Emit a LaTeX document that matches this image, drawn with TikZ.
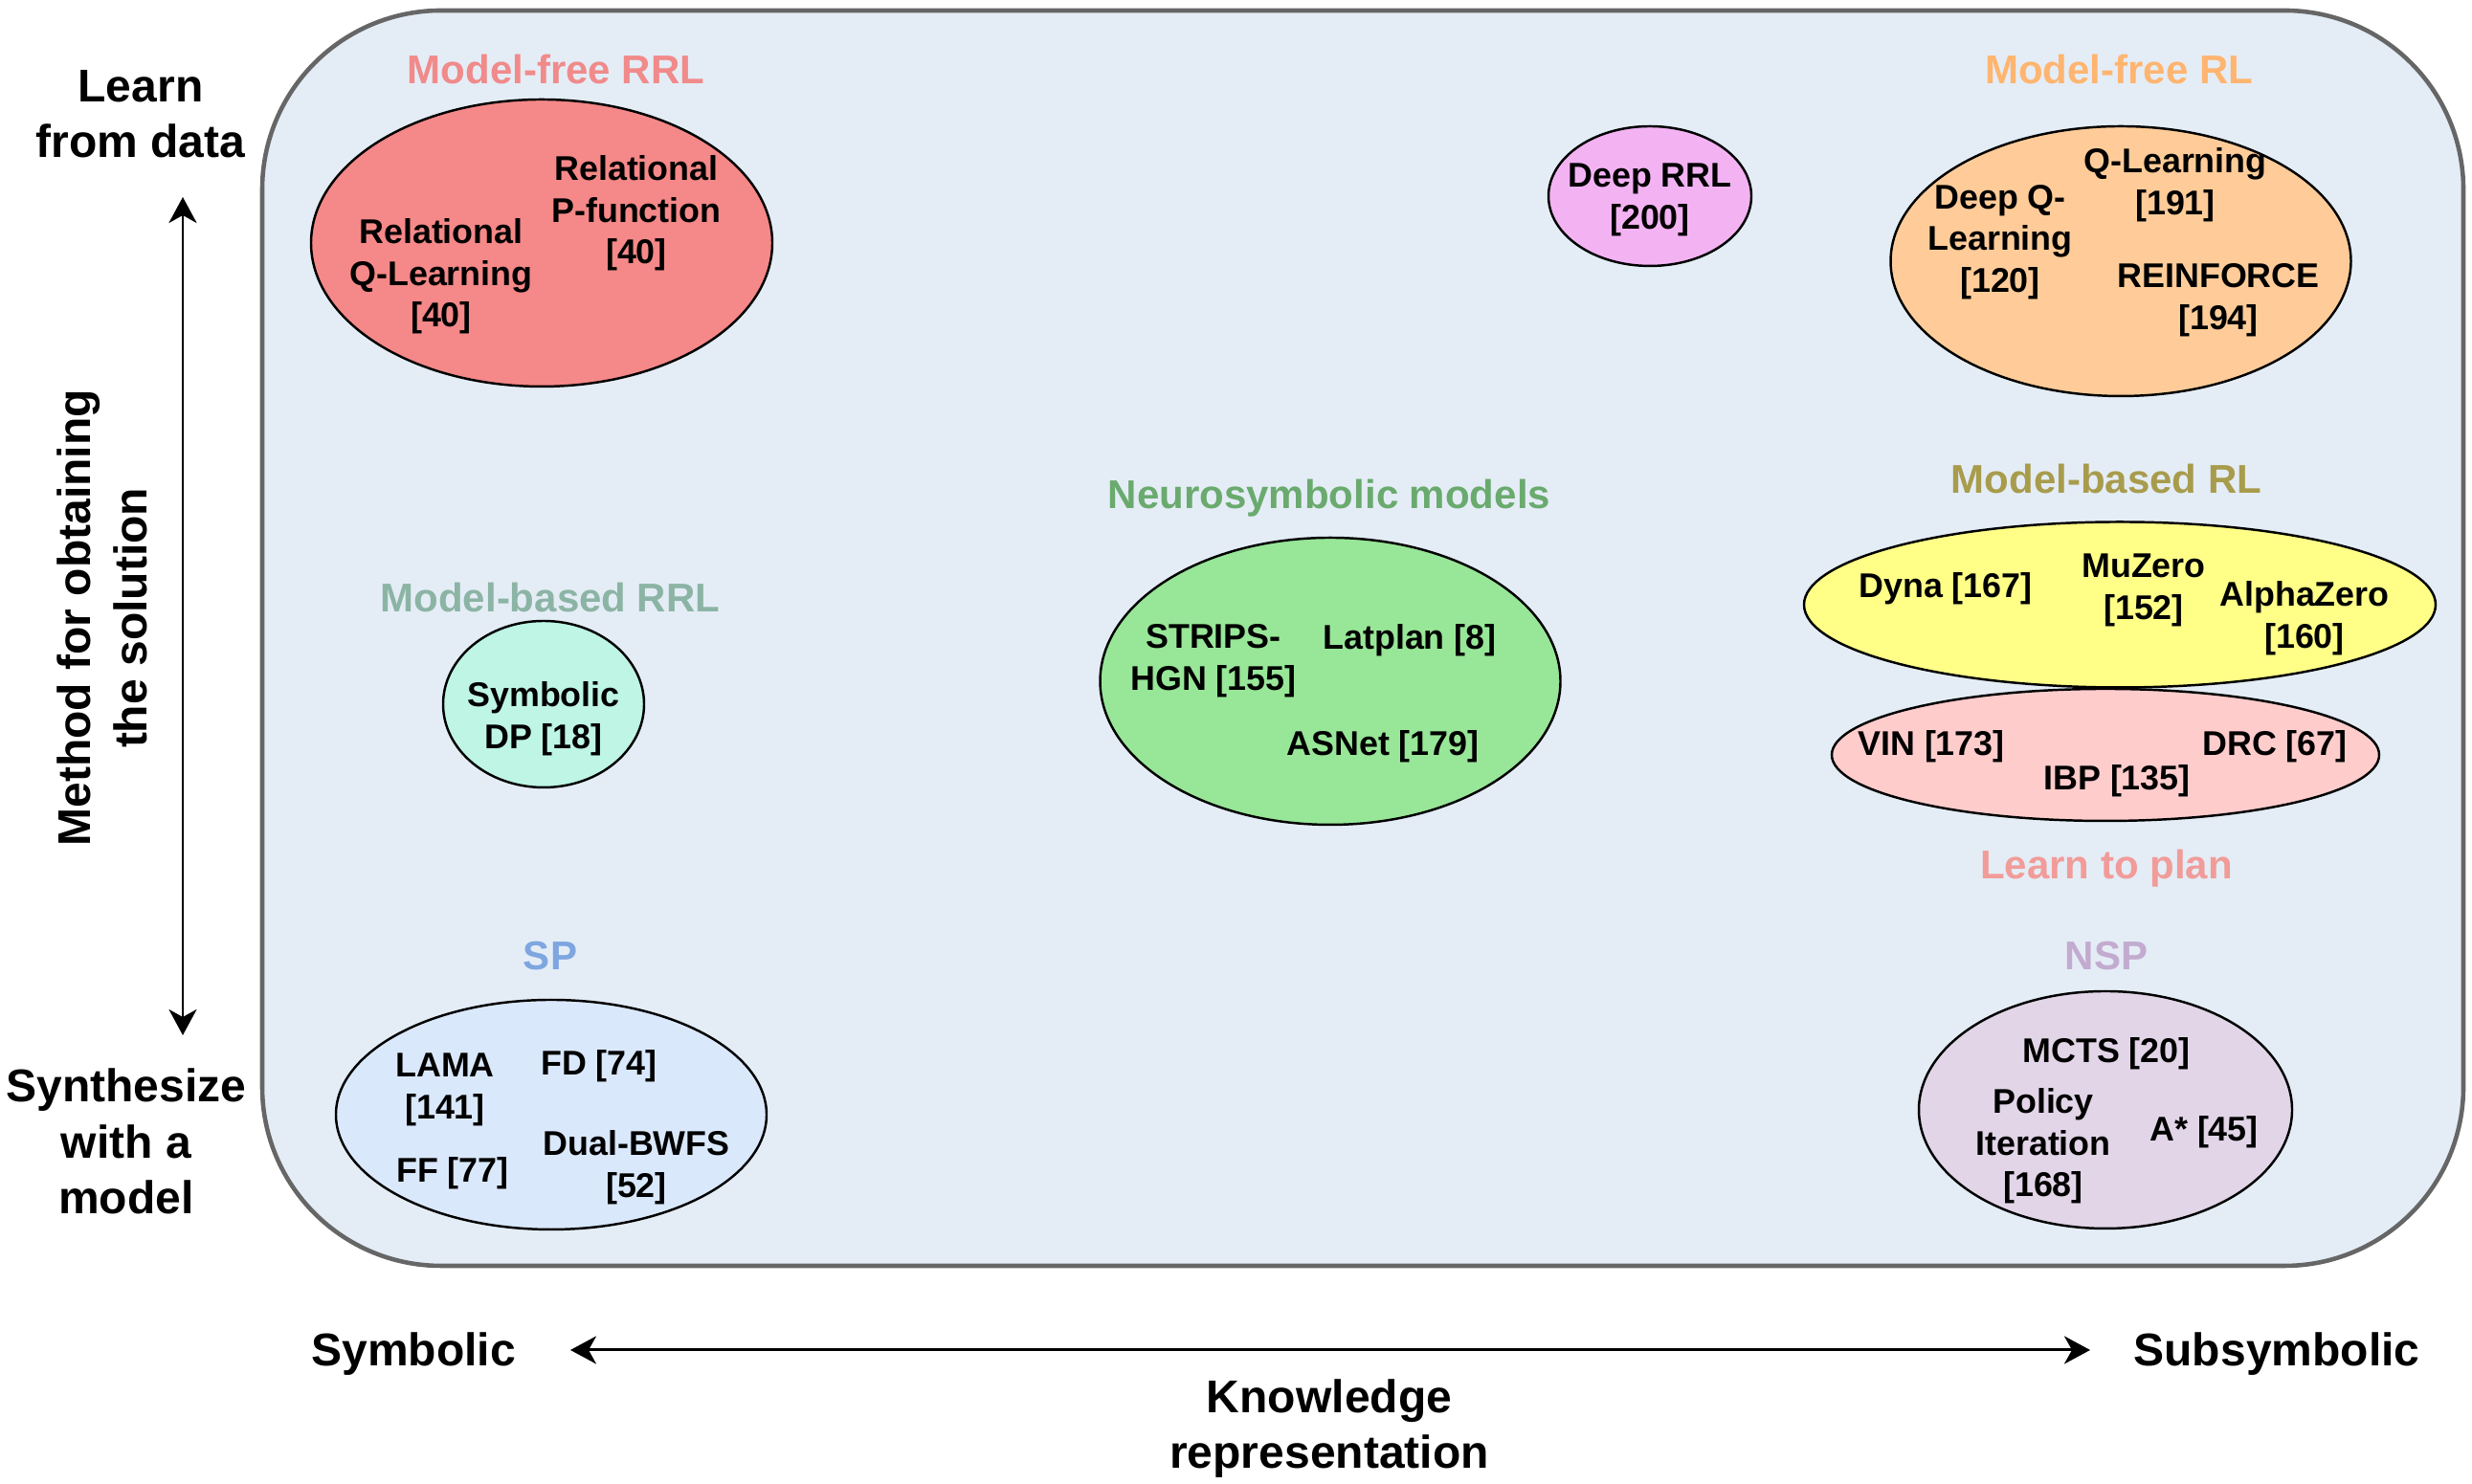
\documentclass[tikz,border=0pt]{standalone}
\usepackage{fontspec}
\setmainfont{Liberation Sans}
\usetikzlibrary{shapes.geometric,arrows.meta}

\definecolor{bgfill}{RGB}{228,237,246}
\definecolor{bgline}{RGB}{102,102,102}
\definecolor{mfrrl}{RGB}{245,136,136}
\definecolor{mfrrlt}{RGB}{241,138,138}
\definecolor{mfrl}{RGB}{255,204,153}
\definecolor{mfrlt}{RGB}{255,181,112}
\definecolor{drrl}{RGB}{243,179,243}
\definecolor{mbrrl}{RGB}{190,245,229}
\definecolor{mbrrlt}{RGB}{140,180,165}
\definecolor{neuro}{RGB}{152,230,152}
\definecolor{neurot}{RGB}{106,170,110}
\definecolor{mbrl}{RGB}{255,255,136}
\definecolor{mbrlt}{RGB}{168,156,76}
\definecolor{ltp}{RGB}{255,204,204}
\definecolor{ltpt}{RGB}{241,156,153}
\definecolor{sp}{RGB}{218,232,252}
\definecolor{spt}{RGB}{126,166,224}
\definecolor{nsp}{RGB}{225,213,231}
\definecolor{nspt}{RGB}{195,171,208}

\tikzset{
  blob/.style={ellipse, draw=black, line width=0.7pt, inner sep=0pt},
  ttl/.style={yshift=-0.04cm, font=\fontsize{11.95}{14}\selectfont\bfseries},
  lbl/.style={yshift=-0.04cm, align=center, font=\fontsize{10.2}{12.4}\selectfont\bfseries},
  axlbl/.style={yshift=-0.04cm, align=center, font=\fontsize{13.66}{16.6}\selectfont\bfseries},
  axis/.style={{Stealth[length=0.27cm,width=0.29cm,inset=0.08cm]}-{Stealth[length=0.27cm,width=0.29cm,inset=0.08cm]}, line width=0.85pt}
}

\begin{document}
\begin{tikzpicture}
        \useasboundingbox (0,0) rectangle (25.83,15.51);
        \draw[fill=bgfill, draw=bgline, line width=1.3pt, rounded corners=1.87cm] (2.74,2.28) rectangle (25.74,15.40);

        \node[axlbl] (learn) at (1.47,14.36) {Learn\\from data};
        \node[axlbl, rotate=90] (meth) at (1.07,9.09) {Method for obtaining\\the solution};
        \node[axlbl] (synth) at (1.32,3.62) {Synthesize\\with a\\model};
        \coordinate (vtop) at (1.91,13.45);
        \coordinate (vbot) at (1.91,4.69);
        \draw[axis] (vtop) -- (vbot);

        \node[axlbl] (symb) at (4.32,1.40) {Symbolic};
        \node[axlbl] (subsymb) at (23.79,1.40) {Subsymbolic};
        \node[axlbl] (know) at (13.89,0.62) {Knowledge\\representation};
        \coordinate (hl) at (5.96,1.40);
        \coordinate (hr) at (21.84,1.40);
        \draw[axis] (hl) -- (hr);

        \node[ttl, text=mfrrlt] (tmfrrl) at (5.81,14.82) {Model-free RRL};
        \node[blob, fill=mfrrl, minimum width=4.82cm, minimum height=3.00cm] (emfrrl) at (5.66,12.97) {};
        \node[lbl] (rql) at (4.61,12.66) {Relational\\Q-Learning\\{}[40]};
        \node[lbl] (rpf) at (6.65,13.32) {Relational\\P-function\\{}[40]};

        \node[blob, fill=drrl, minimum width=2.12cm, minimum height=1.46cm] (edrrl) at (17.24,13.46) {};
        \node[lbl] (deeprrl) at (17.24,13.46) {Deep RRL\\{}[200]};

        \node[ttl, text=mfrlt] (tmfrl) at (22.14,14.82) {Model-free RL};
        \node[blob, fill=mfrl, minimum width=4.81cm, minimum height=2.82cm] (emfrl) at (22.16,12.78) {};
        \node[lbl] (dqn) at (20.90,13.02) {Deep Q-\\Learning\\{}[120]};
        \node[lbl] (ql) at (22.73,13.62) {Q-Learning\\{}[191]};
        \node[lbl] (reinf) at (23.18,12.41) {REINFORCE\\{}[194]};

        \node[ttl, text=mbrrlt] (tmbrrl) at (5.75,9.30) {Model-based RRL};
        \node[blob, fill=mbrrl, minimum width=2.10cm, minimum height=1.74cm] (embrrl) at (5.68,8.15) {};
        \node[lbl] (sdp) at (5.68,8.04) {Symbolic\\DP [18]};

        \node[ttl, text=neurot] (tneuro) at (13.89,10.34) {Neurosymbolic models};
        \node[blob, fill=neuro, minimum width=4.81cm, minimum height=3.00cm] (eneuro) at (13.90,8.39) {};
        \node[lbl] (strips) at (12.68,8.64) {STRIPS-\\HGN [155]};
        \node[lbl] (latplan) at (14.73,8.86) {Latplan [8]};
        \node[lbl] (asnet) at (14.45,7.75) {ASNet [179]};

        \node[ttl, text=mbrlt] (tmbrl) at (22.01,10.54) {Model-based RL};
        \node[blob, fill=mbrl, minimum width=6.60cm, minimum height=1.73cm] (embrl) at (22.15,9.19) {};
        \node[lbl] (dyna) at (20.33,9.40) {Dyna [167]};
        \node[lbl] (muzero) at (22.40,9.38) {MuZero\\{}[152]};
        \node[lbl] (alpha) at (24.08,9.09) {AlphaZero\\{}[160]};

        \node[blob, fill=ltp, minimum width=5.72cm, minimum height=1.38cm] (eltp) at (22.00,7.62) {};
        \node[lbl] (vin) at (20.18,7.75) {VIN [173]};
        \node[lbl] (ibp) at (22.12,7.39) {IBP [135]};
        \node[lbl] (drc) at (23.77,7.75) {DRC [67]};
        \node[ttl, text=ltpt] (tltp) at (22.01,6.47) {Learn to plan};

        \node[ttl, text=spt] (tsp) at (5.75,5.56) {SP};
        \node[blob, fill=sp, minimum width=4.50cm, minimum height=2.40cm] (esp) at (5.76,3.86) {};
        \node[lbl] (lama) at (4.65,4.16) {LAMA\\{}[141]};
        \node[lbl] (fd) at (6.26,4.41) {FD [74]};
        \node[lbl] (ff) at (4.73,3.29) {FF [77]};
        \node[lbl] (dual) at (6.65,3.35) {Dual-BWFS\\{}[52]};

        \node[ttl, text=nspt] (tnsp) at (22.01,5.56) {NSP};
        \node[blob, fill=nsp, minimum width=3.90cm, minimum height=2.48cm] (ensp) at (22.00,3.91) {};
        \node[lbl] (mcts) at (22.01,4.54) {MCTS [20]};
        \node[lbl] (pi) at (21.35,3.57) {Policy\\Iteration\\{}[168]};
        \node[lbl] (astar) at (23.03,3.72) {A* [45]};
\end{tikzpicture}
\end{document}
